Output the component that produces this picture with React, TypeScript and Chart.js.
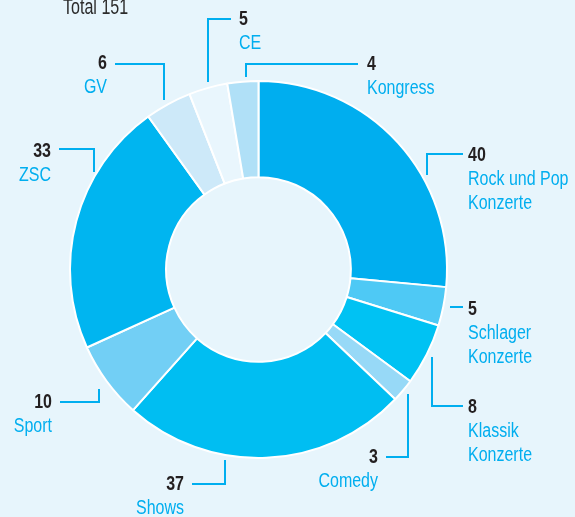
import React, { useEffect, useRef } from "react";
import { Chart, registerables } from "chart.js";

Chart.register(...registerables);

// ---- data ----
const categories = [
  "Rock und Pop Konzerte",
  "Schlager Konzerte",
  "Klassik Konzerte",
  "Comedy",
  "Shows",
  "Sport",
  "ZSC",
  "GV",
  "CE",
  "Kongress",
];
const labelLines = [
  ["Rock und Pop", "Konzerte"],
  ["Schlager", "Konzerte"],
  ["Klassik", "Konzerte"],
  ["Comedy"],
  ["Shows"],
  ["Sport"],
  ["ZSC"],
  ["GV"],
  ["CE"],
  ["Kongress"],
];
const values = [40, 5, 8, 3, 37, 10, 33, 6, 5, 4];
const totalLabel = "Total";

// ---- styles ----
const BG = "#e7f5fc";
const colors = [
  "#00aeef",
  "#4ec9f5",
  "#00c2f3",
  "#97d9f7",
  "#00bef2",
  "#72cff5",
  "#00b5f0",
  "#cde9f9",
  "#e9f6fd",
  "#b0e0f7",
];
const BLUE = "#00aeef";
const DARK = "#231f20";
const FONT = '"Liberation Sans", Arial, sans-serif';
const FS = 20;
const SX = 0.8; // horizontal condensing of the text
const LINE_H = 24;

// label layout (annotation placement): text x, number baseline, alignment, leader path
type Lay = { tx: number; ty: number; align: "left" | "right"; path: number[][] };
const layout: Lay[] = [
  { tx: 468, ty: 161, align: "left", path: [[427, 175], [427, 154], [463, 154]] },
  { tx: 468, ty: 315, align: "left", path: [[450, 307], [463, 307]] },
  { tx: 468, ty: 413, align: "left", path: [[432, 357], [432, 406], [463, 406]] },
  { tx: 378, ty: 463, align: "right", path: [[408, 394], [408, 457], [386, 457]] },
  { tx: 184, ty: 490, align: "right", path: [[225, 460], [225, 484], [192, 484]] },
  { tx: 52, ty: 408, align: "right", path: [[99, 389], [99, 402], [60, 402]] },
  { tx: 51, ty: 157, align: "right", path: [[94, 172], [94, 149], [59, 149]] },
  { tx: 107, ty: 69, align: "right", path: [[164, 100], [164, 64], [115, 64]] },
  { tx: 239, ty: 25, align: "left", path: [[208, 82], [208, 19], [231, 19]] },
  { tx: 367, ty: 70, align: "left", path: [[246, 77], [246, 64], [358, 64]] },
];
const totalPos = { x: 63, y: 14, size: 22, sx: 0.73 };

function drawText(
  ctx: CanvasRenderingContext2D,
  text: string,
  x: number,
  y: number,
  align: CanvasTextAlign,
  font: string,
  color: string,
  sx: number = SX
) {
  ctx.save();
  ctx.translate(x, y);
  ctx.scale(sx, 1);
  ctx.font = font;
  ctx.fillStyle = color;
  ctx.textAlign = align;
  ctx.textBaseline = "alphabetic";
  ctx.fillText(text, 0, 0);
  ctx.restore();
}

const labelPlugin = {
  id: "donutLabels",
  afterDraw(chart: any) {
    const ctx = chart.ctx as CanvasRenderingContext2D;
    const data = chart.data.datasets[0].data as number[];
    ctx.save();
    ctx.strokeStyle = BLUE;
    ctx.lineWidth = 2;
    ctx.lineCap = "butt";
    ctx.lineJoin = "miter";
    layout.forEach((l) => {
      ctx.beginPath();
      l.path.forEach((p, i) => (i === 0 ? ctx.moveTo(p[0], p[1]) : ctx.lineTo(p[0], p[1])));
      ctx.stroke();
    });
    layout.forEach((l, i) => {
      drawText(ctx, String(data[i]), l.tx, l.ty, l.align, `bold ${FS}px ${FONT}`, DARK);
      labelLines[i].forEach((t, j) =>
        drawText(ctx, t, l.tx, l.ty + LINE_H * (j + 1), l.align, `${FS}px ${FONT}`, BLUE)
      );
    });
    const total = data.reduce((a, b) => a + b, 0);
    drawText(
      ctx,
      `${totalLabel} ${total}`,
      totalPos.x,
      totalPos.y,
      "left",
      `${totalPos.size}px ${FONT}`,
      "#2b2b2b",
      totalPos.sx
    );
    ctx.restore();
  },
};

export default function App() {
  const ref = useRef<HTMLCanvasElement | null>(null);
  useEffect(() => {
    if (!ref.current) return;
    const chart = new Chart(ref.current, {
      type: "doughnut",
      data: {
        labels: categories,
        datasets: [
          {
            data: values,
            backgroundColor: colors,
            borderColor: "#ffffff",
            borderWidth: 2,
            hoverOffset: 0,
          },
        ],
      },
      options: {
        responsive: false,
        animation: false,
        devicePixelRatio: 1,
        cutout: "49%",
        rotation: 0,
        layout: { padding: { left: 69, top: 80, right: 127, bottom: 58 } },
        plugins: {
          legend: { display: false },
          tooltip: { enabled: false },
        },
      },
      plugins: [labelPlugin],
    });
    return () => chart.destroy();
  }, []);
  return (
    <div
      style={{
        position: "fixed",
        left: 0,
        top: 0,
        width: 575,
        height: 517,
        background: BG,
        overflow: "hidden",
      }}
    >
      <canvas ref={ref} width={575} height={517} style={{ display: "block" }} />
    </div>
  );
}
